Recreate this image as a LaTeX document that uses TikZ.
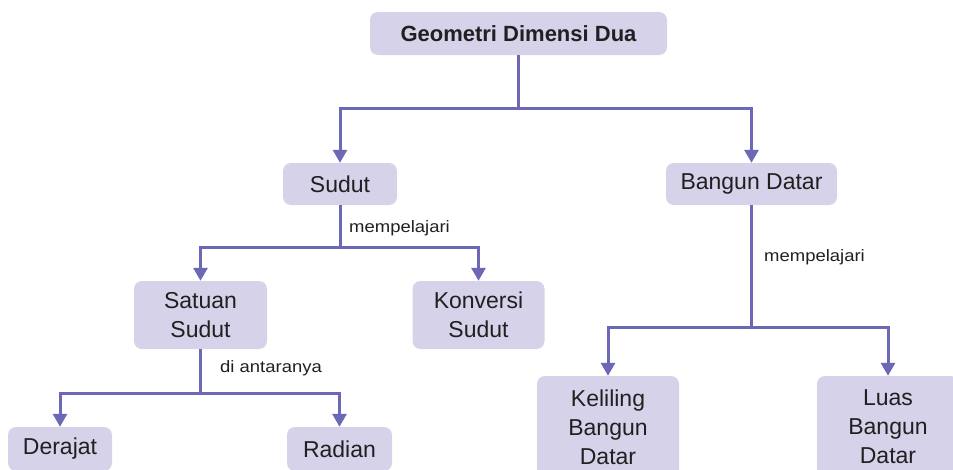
\documentclass[tikz,border=0pt]{standalone}
\usepackage{fontspec}
\setmainfont{Liberation Sans}
\newfontfamily\lblfont[FakeStretch=1.12]{Liberation Sans}
\usetikzlibrary{arrows.meta}
\definecolor{boxfill}{HTML}{D5D2EA}
\definecolor{linec}{HTML}{6C68B6}
\definecolor{txt}{HTML}{231F20}
\begin{document}
\begin{tikzpicture}[x=1pt,y=-1pt,
  box/.style={fill=boxfill, rounded corners=8pt, align=center, inner sep=0pt,
    font=\fontsize{23}{29}\selectfont, text=txt},
  conn/.style={draw=linec, line width=3pt},
  arr/.style={conn, -{Triangle[width=14pt,length=13pt]}},
  lbl/.style={font=\lblfont\fontsize{16.5}{20}\selectfont, anchor=base west, inner sep=0pt, text=txt}]
\useasboundingbox (0,0) rectangle (953,469);
\clip (0,0) rectangle (953,469);
% boxes
\node[box, minimum width=297pt, minimum height=43pt, font=\bfseries\fontsize{22}{26}\selectfont] (top) at (518.5,33.5) {Geometri Dimensi Dua};
\node[box, minimum width=114pt, minimum height=42pt] (sudut) at (340,184) {Sudut};
\node[box, minimum width=171pt, minimum height=42pt] (bd) at (751.5,184) {Bangun Datar};
\node[box, minimum width=133pt, minimum height=68pt] (satuan) at (200.5,315) {Satuan\\Sudut};
\node[box, minimum width=132pt, minimum height=68pt] (konversi) at (478.5,315) {Konversi\\Sudut};
\node[box, minimum width=104pt, minimum height=44pt] (derajat) at (60,449) {Derajat};
\node[box, minimum width=105pt, minimum height=44pt] (radian) at (339.5,449) {Radian};
\node[box, minimum width=142pt, minimum height=102pt] (keliling) at (608,427) {Keliling\\Bangun\\Datar};
\node[box, minimum width=142pt, minimum height=102pt] (luas) at (888,427) {Luas\\Bangun\\Datar};
% junctions
\coordinate (j1) at (top.south |- 0,108);
\coordinate (j2) at (sudut.south |- 0,247);
\coordinate (j3) at (bd.south |- 0,327);
\coordinate (j4) at (satuan.south |- 0,393);
% connectors
\draw[conn] (top.south) -- (j1);
\draw[arr] (j1) -| (sudut.north);
\draw[arr] (j1) -| (bd.north);
\draw[conn] (sudut.south) -- (j2);
\draw[arr] (j2) -| (satuan.north);
\draw[arr] (j2) -| (konversi.north);
\draw[conn] (bd.south) -- (j3);
\draw[arr] (j3) -| (keliling.north);
\draw[arr] (j3) -| (luas.north);
\draw[conn] (satuan.south) -- (j4);
\draw[arr] (j4) -| (derajat.north);
\draw[arr] (j4) -| (radian.north);
% labels
\node[lbl] (l1) at (349,232) {mempelajari};
\node[lbl] (l2) at (764,261) {mempelajari};
\node[lbl] (l3) at (220,372) {di antaranya};
\end{tikzpicture}
\end{document}
